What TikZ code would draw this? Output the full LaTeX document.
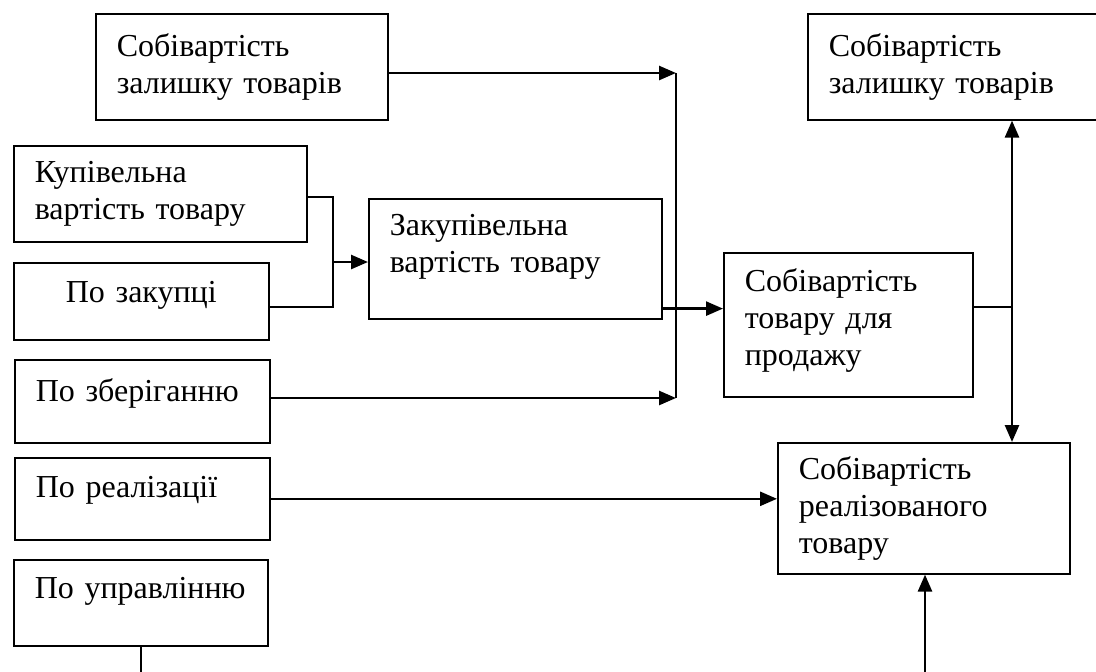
\documentclass[tikz,border=0pt]{standalone}
\usepackage{fontspec}
\setmainfont{Liberation Serif}
\usetikzlibrary{arrows.meta}

\tikzset{
  box/.style = {draw, line width = 0.8pt, anchor = north west,
    inner xsep = 10.5pt, inner ysep = 0pt, align = left,
    font = \fontsize{16pt}{18.5pt}\selectfont},
  arr/.style = {-{Stealth[inset = 0pt, length = 8.5pt, width = 7pt]},
    line width = 1.3pt},
  link/.style = {line width = 0.75pt}
}

\begin{document}
\begin{tikzpicture}[x = 0.5pt, y = -0.5pt]
  \useasboundingbox (0, 0) rectangle (1096, 671);
  % draw boxes on the left
  \node[box, text width = 125pt, minimum height = 53pt] (zalyshokA) at (95, 13)
  {Собівартість\\залишку товарів};
  \node[box, text width = 125.5pt, minimum height = 48pt] (kupiv) at (13, 145)
  {Купівельна\\вартість товару};
  \node[box, text width = 106.5pt, minimum height = 38.5pt, align = center,
  text depth = 9pt] (zakup) at (13, 262) {По закупці};
  \node[box, text width = 106.5pt, minimum height = 41.5pt, text depth = 11.5pt]
  (zberig) at (14, 359) {По зберіганню};
  \node[box, text width = 106.5pt, minimum height = 41pt, text depth = 11.5pt]
  (realiz) at (14, 457) {По реалізації};
  \node[box, text width = 106pt, minimum height = 43pt, text depth = 15pt]
  (upravl) at (13, 559) {По управлінню};
  % draw boxes in the middle and on the right
  \node[box, text width = 125.5pt, minimum height = 60pt, text depth = 34pt]
  (zakupV) at (368, 198) {Закупівельна\\вартість товару};
  \node[box, text width = 103.5pt, minimum height = 72pt, text depth = 45pt]
  (sobivProd) at (723, 252) {Собівартість\\товару для\\продажу};
  \node[box, text width = 125pt, minimum height = 53pt] (zalyshokB) at (807, 13)
  {Собівартість\\залишку товарів};
  \node[box, text width = 125pt, minimum height = 65.5pt] (sobivReal) at (777, 442)
  {Собівартість\\реалізованого\\товару};
  % junction points
  \coordinate (coltop) at (676, 73);
  \coordinate (colbot) at (676, 398);
  \coordinate (join) at (333, 262);
  \coordinate (gh) at ([yshift = 5.5pt]zakupV.south east);
  \coordinate (rj) at (1012, 307);
  \coordinate (uOut) at (140, 675);
  \coordinate (jIn) at (925, 675);
  % draw connectors
  \draw[arr] (coltop -| zalyshokA.east) -- (coltop);
  \draw[arr] (colbot -| zberig.east) -- (colbot);
  \draw[link] (coltop) -- (colbot);
  \draw[link] ([yshift = -1.5pt]kupiv.east) -| (join) |- ([yshift = -2.75pt]zakup.east);
  \draw[arr] (join) -- (join -| zakupV.west);
  \draw[arr] (gh) -- (gh -| sobivProd.west);
  \draw[link] (rj -| sobivProd.east) -- (rj);
  \draw[arr] (rj) -- (rj |- zalyshokB.south);
  \draw[arr] (rj) -- (rj |- sobivReal.north);
  \draw[arr] (realiz.east) -- (realiz.east -| sobivReal.west);
  \draw[line width = 1.3pt] (upravl.south) -- (upravl.south |- uOut);
  \draw[arr] (jIn) -- (jIn |- sobivReal.south);
\end{tikzpicture}
\end{document}
